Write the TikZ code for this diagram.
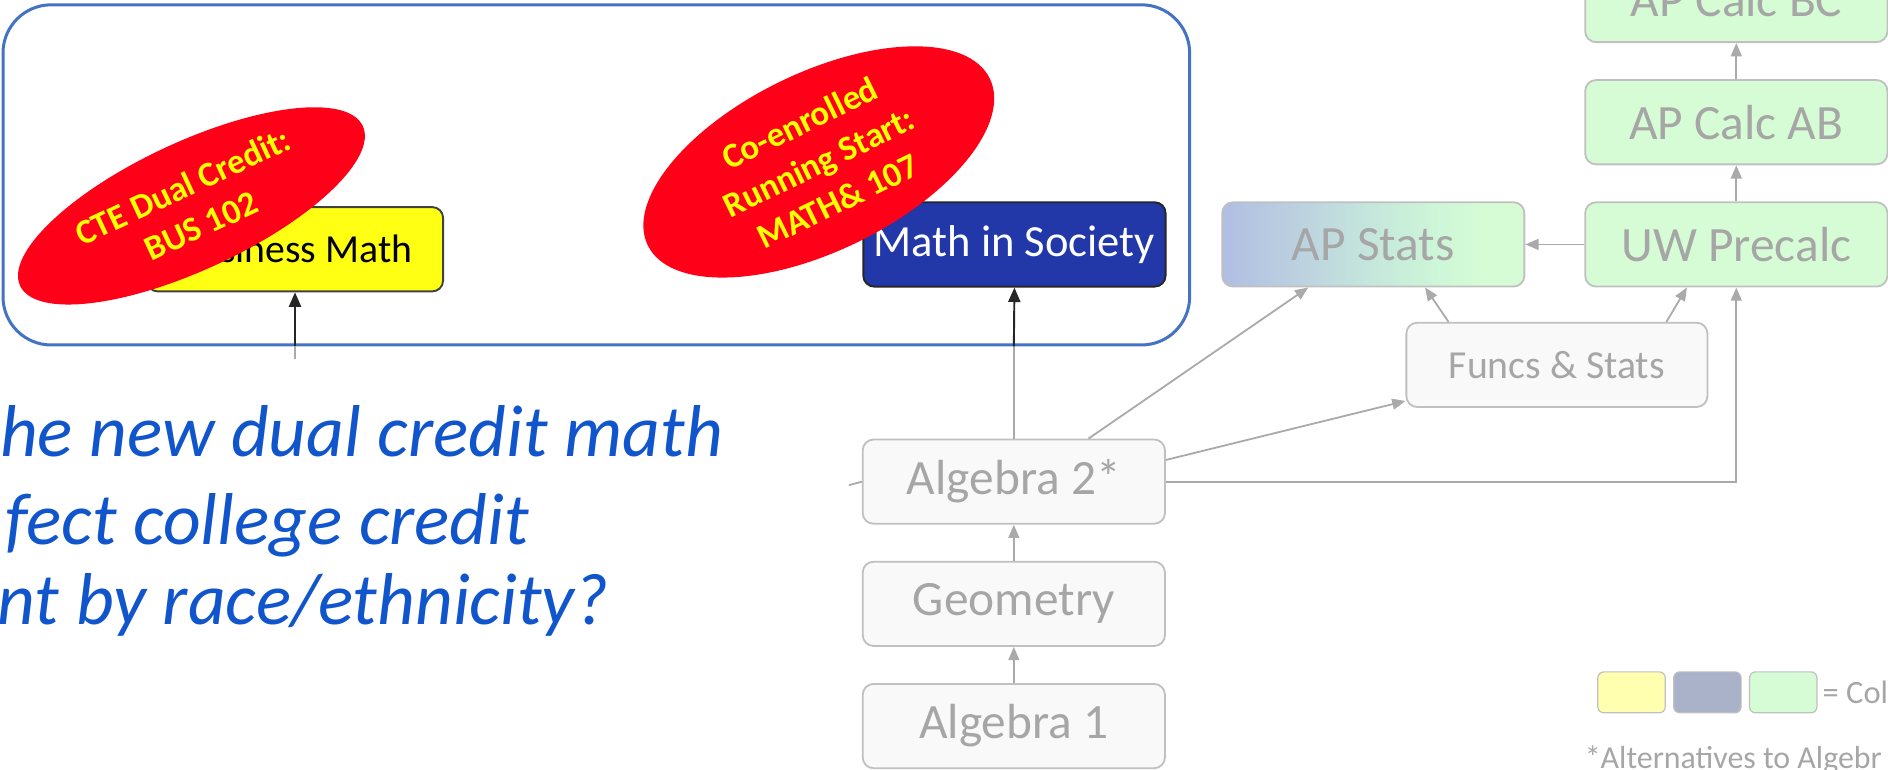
\documentclass[tikz,border=0pt]{standalone}
\usepackage{fontspec}
\setmainfont{Carlito}
\usetikzlibrary{arrows.meta,positioning,shapes.geometric,calc}

\definecolor{hiliteblue}{RGB}{68,114,196}
\definecolor{qblue}{RGB}{17,85,204}
\definecolor{badgered}{RGB}{255,0,25}
\definecolor{badgetext}{RGB}{255,255,0}
\definecolor{busyellow}{RGB}{255,255,20}
\definecolor{misblue}{RGB}{34,56,168}
\definecolor{fadefill}{RGB}{249,249,249}
\definecolor{fadeline}{RGB}{192,192,192}
\definecolor{fadetext}{RGB}{166,166,166}
\definecolor{arrgray}{RGB}{170,170,170}
\definecolor{apgreen}{RGB}{213,252,213}
\definecolor{apblue}{RGB}{176,190,226}
\definecolor{apmidA}{RGB}{188,208,224}
\definecolor{apmidB}{RGB}{196,230,220}
\definecolor{apmidC}{RGB}{205,245,216}
\definecolor{legyellow}{RGB}{255,255,175}
\definecolor{legblue}{RGB}{170,178,202}

\pgfdeclarehorizontalshading{apstatsshade}{100bp}{color(0bp)=(apblue); color(25bp)=(apblue);
  color(37bp)=(apmidA); color(49bp)=(apmidB); color(60bp)=(apmidC); color(68bp)=(apgreen);
  color(100bp)=(apgreen)}

\begin{document}
\begin{tikzpicture}[x=1pt, y=-1pt,
  course/.style={rectangle, rounded corners=9pt, draw=fadeline, line width=1.5pt,
                 fill=fadefill, text=fadetext, minimum width=251pt, minimum height=70pt,
                 inner sep=0pt, font=\fontsize{41}{49}\selectfont},
  college/.style={course, fill=apgreen},
  hot/.style={rectangle, rounded corners=9pt, line width=1.6pt, minimum height=70pt,
              inner sep=0pt},
  badge/.style={ellipse, fill=badgered, text=badgetext, inner sep=0pt, align=center,
                font=\fontsize{29}{36}\selectfont\bfseries},
  hilite/.style={rectangle, rounded corners=40pt, draw=hiliteblue, line width=2.5pt},
  legbox/.style={rectangle, rounded corners=5pt, draw=fadeline, line width=1pt,
                 minimum width=56pt, minimum height=34pt, inner sep=0pt},
  ar/.style={-{Triangle[length=11pt,width=9pt]}, line width=1.5pt, draw=arrgray},
  arline/.style={line width=1.5pt, draw=arrgray},
  arblack/.style={-{Triangle[length=12pt,width=10pt]}, line width=1.6pt, draw=black!85}
]
\useasboundingbox (0,0) rectangle (1568,639);
\clip (0,0) rectangle (1568,639);

% highlighted dual credit courses
\node[hilite, minimum width=985.5pt, minimum height=282.5pt] (focus) at (495.25,145.25) {};

\node[hot, draw=black!75, fill=busyellow, minimum width=246pt,
      font=\fontsize{33}{40}\selectfont] (bm) at (245,207) {Business Math};
\node[hot, draw=black!85, fill=misblue, text=white, minimum width=251pt,
      font=\fontsize{37}{44}\selectfont] (mis) at (842.5,203) {Math in Society};

\node[badge, rotate=25, minimum width=314pt, minimum height=106pt] (cte) at (159,171)
  {CTE Dual Credit:\\BUS 102};
\node[badge, rotate=26, minimum width=316pt, minimum height=148pt] (rs) at (680,134.5)
  {Co-enrolled\\Running Start:\\MATH\& 107};

% question
\begin{scope}[every node/.style={anchor=base west, text=qblue, inner sep=0pt,
                                 font=\fontsize{61}{72}\selectfont\itshape}]
\node (q1) at (0,379) {he new dual credit math};
\node (q2) at (4,452) {fect college credit};
\node (q3) at (-2,519) {nt by race/ethnicity?};
\end{scope}

% pathway
\node[course] (alg1) at (842,603) {Algebra 1};
\node[course, above=30pt of alg1] (geo) {Geometry};
\node[course, above=30pt of geo] (alg2) {Algebra 2*};

\node[college] (uw) at (1442,203) {UW Precalc};
\node[college, above=30pt of uw] (ab) {AP Calc AB};
\node[college, above=30pt of ab] (bc) {AP Calc BC};
\node[course, shading=apstatsshade, left=49pt of uw] (aps) {AP Stats};
\node[course, minimum width=250pt, font=\fontsize{33}{40}\selectfont] (fs) at (1293,303)
  {Funcs \& Stats};

\draw[ar] (alg1) -- (geo);
\draw[ar] (geo) -- (alg2);
\draw[ar] (uw) -- (ab);
\draw[ar] (ab) -- (bc);
\draw[ar] (uw) -- (aps);
\draw[ar] (alg2.east) -| (uw.south);
\draw[ar] ([xshift=62pt]alg2.north) -- ([xshift=-54pt]aps.south);
\draw[ar] ([yshift=18pt]alg2.east) -- ([yshift=-30pt]fs.west);
\draw[ar] ([xshift=-90pt]fs.north) -- ([xshift=43pt]aps.south);
\draw[ar] ([xshift=91pt]fs.north) -- ([xshift=-41pt]uw.south);

\coordinate (stub) at (705,403);
\draw[arline] (stub) -- (alg2.west);
\draw[arline] (alg2.north) -- (alg2.north |- focus.south);
\draw[arblack] (alg2.north |- focus.south) -- (mis.south);

\coordinate (bmin) at (245,298);
\draw[arline] (bmin) -- (bmin |- focus.south);
\draw[arblack] (bmin |- focus.south) -- (bm.south);

% legend
\node[legbox, fill=legyellow] (ly) at (1355,575) {};
\node[legbox, fill=legblue, right=6pt of ly] (lb) {};
\node[legbox, fill=apgreen, right=6pt of lb] (lg) {};
\node[right=4pt of lg, inner sep=0pt, text=fadetext, font=\fontsize{27}{32}\selectfont]
  (legtxt) {= Col};
\node[anchor=base west, inner sep=0pt, text=fadetext, font=\fontsize{26.5}{32}\selectfont]
  (note) at (1316,638) {*Alternatives to Algebr};
\end{tikzpicture}
\end{document}
